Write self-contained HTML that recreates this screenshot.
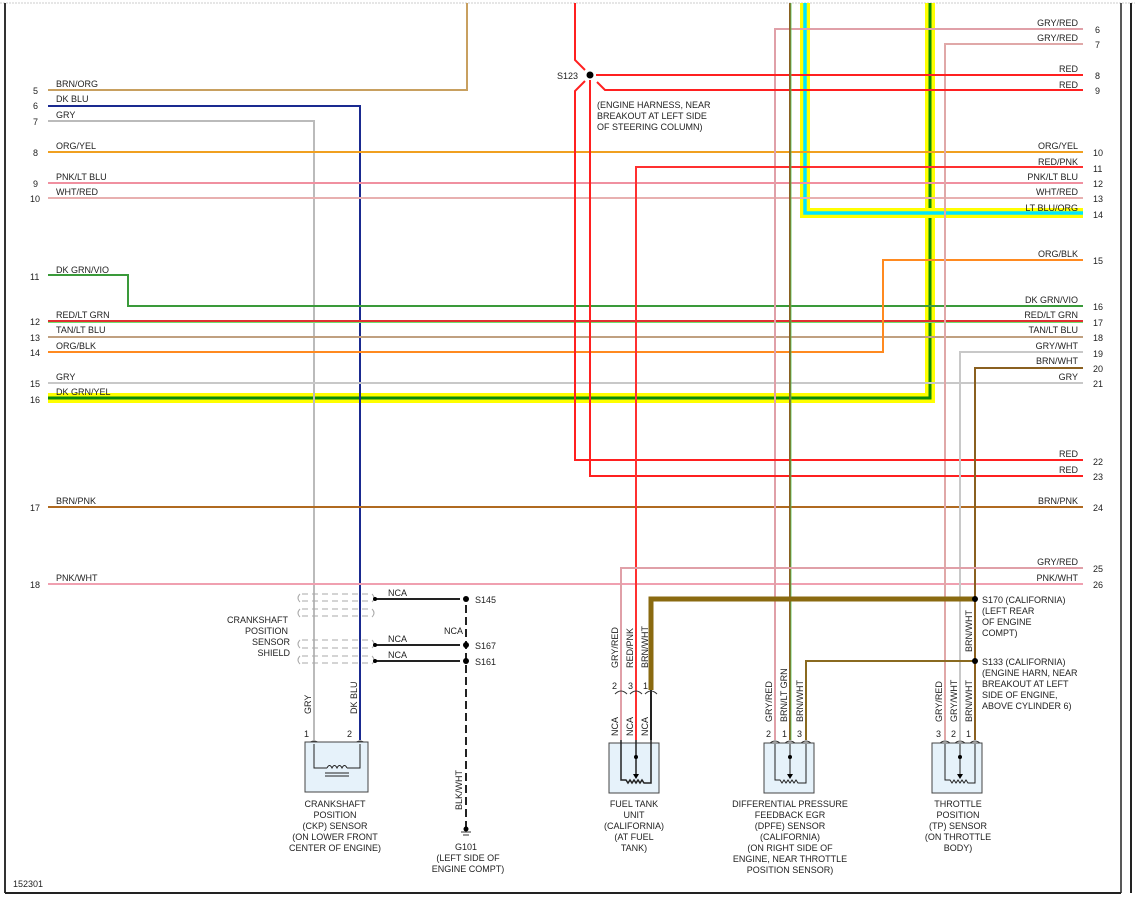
<!DOCTYPE html>
<html><head><meta charset="utf-8"><style>
html,body{margin:0;padding:0;background:#fff;}
svg{display:block;font-family:"Liberation Sans",sans-serif;}
text{font-size:9px;fill:#222;}
</style></head><body>
<svg width="1135" height="901" viewBox="0 0 1135 901" xmlns="http://www.w3.org/2000/svg">
<!-- frame -->
<line x1="0" y1="3" x2="1135" y2="3" stroke="#ccc" stroke-dasharray="2,1"/>
<line x1="5" y1="3" x2="5" y2="893" stroke="#333" stroke-width="2"/>
<line x1="5" y1="893" x2="1121" y2="893" stroke="#222" stroke-width="2"/>
<line x1="1121" y1="3" x2="1121" y2="893" stroke="#222" stroke-width="1.5"/>
<line x1="1131" y1="3" x2="1131" y2="893" stroke="#222" stroke-width="2"/>
<text x="13" y="887">152301</text>

<g fill="none">
<path d="M48 398 H930 V3" stroke="#ffff00" stroke-width="10"/>
<path d="M48 398 H930 V3" stroke="#0a8a0a" stroke-width="3"/>
<path d="M1083 213 H805 V3" stroke="#ffff00" stroke-width="10"/>
<path d="M1083 213 H805 V3" stroke="#00e5ff" stroke-width="3.5"/>

<path d="M48 90 H467 V3" stroke="#c8a060" stroke-width="2"/>
<path d="M48 106 H360 V740" stroke="#1a2a90" stroke-width="2"/>
<path d="M48 121 H314 V740" stroke="#bbb" stroke-width="2"/>
<path d="M48 152 H1083" stroke="#f0a020" stroke-width="2"/>
<path d="M48 183 H1083" stroke="#f090a0" stroke-width="2"/>
<path d="M48 198 H1083" stroke="#e8b0b0" stroke-width="2"/>
<path d="M48 275 H128 V306 H1083" stroke="#3a9a3a" stroke-width="2"/>
<path d="M48 321 H1083" stroke="#e03030" stroke-width="2"/>
<path d="M48 322.5 H1083" stroke="#70e070" stroke-width="1"/>
<path d="M48 337 H1083" stroke="#c0a080" stroke-width="2"/>
<path d="M48 352 H883 V260 H1083" stroke="#ff8a20" stroke-width="2"/>
<path d="M48 383 H1083" stroke="#c8c8c8" stroke-width="2"/>
<path d="M48 507 H1083" stroke="#b06a20" stroke-width="2"/>
<path d="M48 584 H1083" stroke="#f0a0b0" stroke-width="2"/>

<path d="M1083 29 H775 V740" stroke="#e0a0a8" stroke-width="2"/>
<path d="M1083 44 H945 V740" stroke="#e0a8a8" stroke-width="2"/>
<path d="M1083 75 H596" stroke="#ff2020" stroke-width="2"/>
<path d="M1083 90 H605 L597 82" stroke="#ff2020" stroke-width="2"/>
<path d="M575 3 V60 L585 70" stroke="#ff2020" stroke-width="2"/>
<path d="M585 81 L575 91 V460 H1083" stroke="#ff2020" stroke-width="2"/>
<path d="M590 80 V476 H1083" stroke="#ff2020" stroke-width="2"/>
<path d="M1083 167 H636 V740" stroke="#ff3030" stroke-width="2"/>
<path d="M1083 352 H960 V740" stroke="#c8c8c8" stroke-width="2"/>
<path d="M1083 368 H975 V740" stroke="#8a6020" stroke-width="2"/>
<path d="M790 3 V740" stroke="#8a6020" stroke-width="2"/>
<path d="M791 3 V740" stroke="#50c050" stroke-width="0.8"/>
<path d="M1083 568 H621 V740" stroke="#e0a0a8" stroke-width="2"/>
<path d="M975 599 H651 V690" stroke="#8a6a10" stroke-width="5"/>
<path d="M651 690 V740" stroke="#222" stroke-width="2"/>
<path d="M975 661 H806 V740" stroke="#8a6a20" stroke-width="2"/>
</g>
<circle cx="590" cy="75" r="3.5" fill="#000"/>
<circle cx="975" cy="599" r="3" fill="#000"/>
<circle cx="975" cy="661" r="3" fill="#000"/>

<g>
<text x="33" y="94">5</text><text x="56" y="87">BRN/ORG</text>
<text x="33" y="109">6</text><text x="56" y="102">DK BLU</text>
<text x="33" y="125">7</text><text x="56" y="118">GRY</text>
<text x="33" y="156">8</text><text x="56" y="149">ORG/YEL</text>
<text x="33" y="187">9</text><text x="56" y="180">PNK/LT BLU</text>
<text x="30" y="202">10</text><text x="56" y="195">WHT/RED</text>
<text x="30" y="280">11</text><text x="56" y="273">DK GRN/VIO</text>
<text x="30" y="325">12</text><text x="56" y="318">RED/LT GRN</text>
<text x="30" y="341">13</text><text x="56" y="333">TAN/LT BLU</text>
<text x="30" y="356">14</text><text x="56" y="349">ORG/BLK</text>
<text x="30" y="387">15</text><text x="56" y="380">GRY</text>
<text x="30" y="403">16</text><text x="56" y="395">DK GRN/YEL</text>
<text x="30" y="511">17</text><text x="56" y="504">BRN/PNK</text>
<text x="30" y="588">18</text><text x="56" y="581">PNK/WHT</text>
</g>
<g text-anchor="end">
<text x="1078" y="26">GRY/RED</text><text x="1078" y="41">GRY/RED</text>
<text x="1078" y="72">RED</text><text x="1078" y="88">RED</text>
<text x="1078" y="149">ORG/YEL</text><text x="1078" y="165">RED/PNK</text>
<text x="1078" y="180">PNK/LT BLU</text><text x="1078" y="195">WHT/RED</text>
<text x="1078" y="211">LT BLU/ORG</text><text x="1078" y="257">ORG/BLK</text>
<text x="1078" y="303">DK GRN/VIO</text><text x="1078" y="318">RED/LT GRN</text>
<text x="1078" y="333">TAN/LT BLU</text><text x="1078" y="349">GRY/WHT</text>
<text x="1078" y="364">BRN/WHT</text><text x="1078" y="380">GRY</text>
<text x="1078" y="457">RED</text><text x="1078" y="473">RED</text>
<text x="1078" y="504">BRN/PNK</text><text x="1078" y="565">GRY/RED</text>
<text x="1078" y="581">PNK/WHT</text>
</g>
<g>
<text x="1095" y="33">6</text><text x="1095" y="48">7</text><text x="1095" y="79">8</text><text x="1095" y="94">9</text>
<text x="1093" y="156">10</text><text x="1093" y="172">11</text><text x="1093" y="187">12</text><text x="1093" y="202">13</text>
<text x="1093" y="218">14</text><text x="1093" y="264">15</text><text x="1093" y="310">16</text><text x="1093" y="326">17</text>
<text x="1093" y="341">18</text><text x="1093" y="357">19</text><text x="1093" y="372">20</text><text x="1093" y="387">21</text>
<text x="1093" y="465">22</text><text x="1093" y="480">23</text><text x="1093" y="511">24</text><text x="1093" y="572">25</text>
<text x="1093" y="588">26</text>
</g>
<text x="557" y="79">S123</text>
<text x="597" y="108">(ENGINE HARNESS, NEAR</text>
<text x="597" y="119">BREAKOUT AT LEFT SIDE</text>
<text x="597" y="130">OF STEERING COLUMN)</text>

<!-- shield -->
<g fill="none" stroke="#aaa" stroke-dasharray="6,4">
<path d="M302 594 H370 M302 601 H370 M302 609 H370 M302 616 H370"/>
<path d="M302 640 H370 M302 648 H370 M302 656 H370 M302 663 H370"/>
</g>
<g fill="none" stroke="#aaa">
<path d="M300 594 q-4 4 0 8 M300 609 q-4 4 0 8 M372 594 q4 4 0 8 M372 609 q4 4 0 8"/>
<path d="M300 640 q-4 4 0 8 M300 656 q-4 4 0 8 M372 640 q4 4 0 8 M372 656 q4 4 0 8"/>
</g>
<g fill="none" stroke="#222" stroke-width="2">
<path d="M375 599 H460 M375 645 H460 M375 661 H460"/>
<path d="M466 605 V828" stroke-dasharray="8,4"/>
</g>
<circle cx="375" cy="599" r="2" fill="#000"/><circle cx="375" cy="645" r="2" fill="#000"/><circle cx="375" cy="661" r="2" fill="#000"/>
<circle cx="466" cy="599" r="3" fill="#000"/><circle cx="466" cy="645" r="3" fill="#000"/><circle cx="466" cy="661" r="3" fill="#000"/>
<path d="M461 832 H471 M463 835 H469" stroke="#333"/><circle cx="466" cy="829" r="2.5" fill="#000"/>
<text x="388" y="596">NCA</text><text x="388" y="642">NCA</text><text x="388" y="658">NCA</text><text x="444" y="634">NCA</text>
<text x="475" y="603">S145</text><text x="475" y="649">S167</text><text x="475" y="665">S161</text>
<g text-anchor="end"><text x="288" y="623">CRANKSHAFT</text><text x="288" y="634">POSITION</text><text x="290" y="645">SENSOR</text><text x="290" y="656">SHIELD</text></g>
<g text-anchor="middle">
<text x="466" y="850">G101</text><text x="468" y="861">(LEFT SIDE OF</text><text x="468" y="872">ENGINE COMPT)</text>
<text x="335" y="807">CRANKSHAFT</text><text x="335" y="818">POSITION</text><text x="335" y="829">(CKP) SENSOR</text><text x="335" y="840">(ON LOWER FRONT</text><text x="335" y="851">CENTER OF ENGINE)</text>
<text x="634" y="807">FUEL TANK</text><text x="634" y="818">UNIT</text><text x="634" y="829">(CALIFORNIA)</text><text x="634" y="840">(AT FUEL</text><text x="634" y="851">TANK)</text>
<text x="790" y="807">DIFFERENTIAL PRESSURE</text><text x="790" y="818">FEEDBACK EGR</text><text x="790" y="829">(DPFE) SENSOR</text><text x="790" y="840">(CALIFORNIA)</text><text x="790" y="851">(ON RIGHT SIDE OF</text><text x="790" y="862">ENGINE, NEAR THROTTLE</text><text x="790" y="873">POSITION SENSOR)</text>
<text x="958" y="807">THROTTLE</text><text x="958" y="818">POSITION</text><text x="958" y="829">(TP) SENSOR</text><text x="958" y="840">(ON THROTTLE</text><text x="958" y="851">BODY)</text>
</g>
<g>
<text x="982" y="603">S170 (CALIFORNIA)</text><text x="982" y="614">(LEFT REAR</text><text x="982" y="625">OF ENGINE</text><text x="982" y="636">COMPT)</text>
<text x="982" y="665">S133 (CALIFORNIA)</text><text x="982" y="676">(ENGINE HARN, NEAR</text><text x="982" y="687">BREAKOUT AT LEFT</text><text x="982" y="698">SIDE OF ENGINE,</text><text x="982" y="709">ABOVE CYLINDER 6)</text>
</g>
<g>
<text transform="translate(311,714) rotate(-90)">GRY</text>
<text transform="translate(357,714) rotate(-90)">DK BLU</text>
<text transform="translate(462,810) rotate(-90)">BLK/WHT</text>
<text transform="translate(618,668) rotate(-90)">GRY/RED</text>
<text transform="translate(633,668) rotate(-90)">RED/PNK</text>
<text transform="translate(648,668) rotate(-90)">BRN/WHT</text>
<text transform="translate(618,736) rotate(-90)">NCA</text>
<text transform="translate(633,736) rotate(-90)">NCA</text>
<text transform="translate(648,736) rotate(-90)">NCA</text>
<text transform="translate(772,722) rotate(-90)">GRY/RED</text>
<text transform="translate(787,722) rotate(-90)">BRN/LT GRN</text>
<text transform="translate(803,722) rotate(-90)">BRN/WHT</text>
<text transform="translate(942,722) rotate(-90)">GRY/RED</text>
<text transform="translate(957,722) rotate(-90)">GRY/WHT</text>
<text transform="translate(972,722) rotate(-90)">BRN/WHT</text>
<text transform="translate(972,652) rotate(-90)">BRN/WHT</text>
</g>
<g>
<text x="304" y="737">1</text><text x="347" y="737">2</text>
<text x="612" y="689">2</text><text x="628" y="689">3</text><text x="643" y="689">1</text>
<text x="766" y="737">2</text><text x="782" y="737">1</text><text x="797" y="737">3</text>
<text x="936" y="737">3</text><text x="951" y="737">2</text><text x="966" y="737">1</text>
</g>
<g fill="none" stroke="#333">
<path d="M308 744 q6 -6 12 0 M354 744 q6 -6 12 0"/>
<path d="M615 694 q6 -6 12 0 M630 694 q6 -6 12 0 M645 694 q6 -6 12 0"/>
<path d="M769 744 q6 -6 12 0 M784 744 q6 -6 12 0 M800 744 q6 -6 12 0"/>
<path d="M939 744 q6 -6 12 0 M954 744 q6 -6 12 0 M969 744 q6 -6 12 0"/>
</g>
<g stroke="#444" fill="#e6f2fa">
<rect x="305" y="742" width="63" height="50"/>
<rect x="609" y="743" width="50" height="50"/>
<rect x="764" y="743" width="50" height="50"/>
<rect x="932" y="743" width="50" height="50"/>
</g>
<g fill="none" stroke="#222">
<path d="M314 744 V768 H327 M360 744 V768 H347"/>
<path d="M327 768 q2.5 -5 5 0 q2.5 -5 5 0 q2.5 -5 5 0 q2.5 -5 5 0 M325 773 H349 M325 776 H349"/>
<path d="M621 740 V780 H626 l2 3 l2 -3 l2 3 l2 -3 l2 3 l2 -3 l2 3 l2 -3 l2 3 H651 V740 M636 740 V774" stroke-width="1.5"/>
<path d="M775 744 V780 H780 l2 3 l2 -3 l2 3 l2 -3 l2 3 l2 -3 l2 3 l2 -3 l2 3 H806 V744 M790 744 V774"/>
<path d="M945 744 V780 H950 l2 3 l2 -3 l2 3 l2 -3 l2 3 l2 -3 l2 3 l2 -3 l2 3 H975 V744 M960 744 V774"/>
</g>
<g fill="#000">
<circle cx="636" cy="757" r="2"/><path d="M633 774 l3 5 l3 -5z"/>
<circle cx="790" cy="757" r="2"/><path d="M787 774 l3 5 l3 -5z"/>
<circle cx="960" cy="757" r="2"/><path d="M957 774 l3 5 l3 -5z"/>
</g>
</svg>
</body></html>
